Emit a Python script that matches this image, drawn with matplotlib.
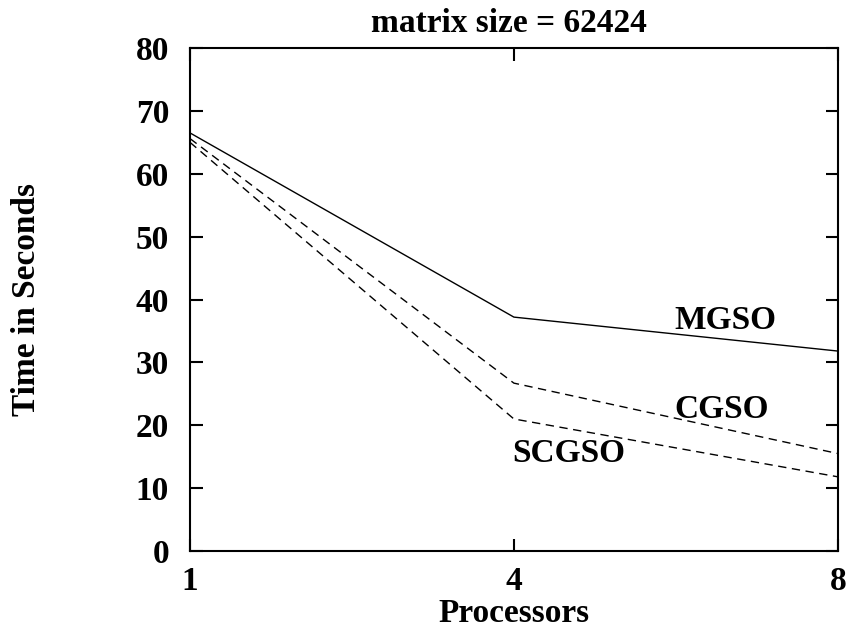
import matplotlib
matplotlib.use("Agg")
import matplotlib.pyplot as plt

processors = ["1", "4", "8"]
mgso = [66.5, 37.2, 31.8]
cgso = [65.6, 26.7, 15.5]
scgso = [65.0, 21.0, 11.8]

plt.rcParams['font.family'] = ['Liberation Serif', 'DejaVu Serif']
plt.rcParams['font.weight'] = 'bold'

fig = plt.figure(figsize=(8.48, 6.3), dpi=100)
ax = fig.add_axes([0.224, 0.1254, 0.764, 0.7984])

x = range(len(processors))
ax.plot(x, mgso, color='black', lw=1.0)
ax.plot(x, cgso, color='black', lw=1.0, dashes=(6, 4))
ax.plot(x, scgso, color='black', lw=1.0, dashes=(6, 4))

# curve labels
ax.text(1.654, 35.3, "MGSO", ha='center', va='baseline', fontsize=24, fontweight='bold')
ax.text(1.642, 21.15, "CGSO", ha='center', va='baseline', fontsize=24, fontweight='bold')
ax.text(1.170, 14.15, "SCGSO", ha='center', va='baseline', fontsize=24, fontweight='bold')

ax.set_xlim(0, 2)
ax.set_ylim(0, 80)
ax.set_xticks(list(x))
ax.set_xticklabels(processors)
ax.set_yticks(range(0, 81, 10))
ax.tick_params(direction='in', length=9, width=1.5, top=True, right=True,
               labelsize=24)
ax.tick_params(axis='x', pad=11)
ax.tick_params(axis='y', pad=15)
for lab in ax.get_xticklabels() + ax.get_yticklabels():
    lab.set_fontweight('bold')
for s in ax.spines.values():
    s.set_linewidth(1.5)

fig.text(514 / 848, 1 - 613 / 630, "Processors", ha='center', va='center',
         fontsize=24, fontweight='bold')
fig.text(27 / 848, 1 - 300 / 630, "Time in Seconds", ha='center', va='center',
         rotation=90, fontsize=24, fontweight='bold')
fig.text(509 / 848, 1 - 32 / 630, "matrix size = 62424", ha='center', va='baseline',
         fontsize=24, fontweight='bold')

fig.savefig("out.png", dpi=100)
